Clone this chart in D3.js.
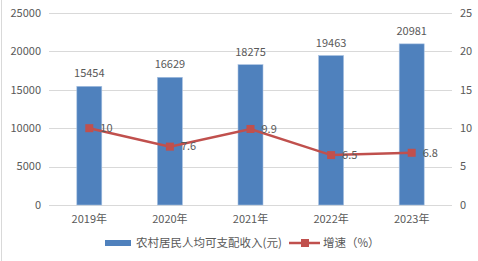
<!DOCTYPE html>
<html><head><meta charset="utf-8">
<script src="https://cdn.jsdelivr.net/npm/d3@7"></script>
<style>body{margin:0;background:#fff}svg{display:block}</style>
</head><body>
<script>
const categories = ["2019年","2020年","2021年","2022年","2023年"];
const income = [15454,16629,18275,19463,20981];
const growth = [10,7.6,9.9,6.5,6.8];
const leftTicks = [0,5000,10000,15000,20000,25000];
const rightTicks = [0,5,10,15,20,25];
const seriesNames = ["农村居民人均可支配收入(元)","增速（%）"];

const W=478,H=261;
const font='"Microsoft YaHei","Noto Sans CJK SC",sans-serif';
const svg=d3.select("body").append("svg").attr("width",W).attr("height",H).style("font-family",font);
svg.append("rect").attr("width",W).attr("height",H).attr("fill","#fff");
svg.append("line").attr("x1",1.5).attr("x2",1.5).attr("y1",0).attr("y2",H).attr("stroke","#d9d9d9");

const x=d3.scaleBand().domain(categories).range([49,452]).paddingInner(0.69).paddingOuter(0.345);
const yL=d3.scaleLinear().domain([0,25000]).range([205,13]);
const yR=d3.scaleLinear().domain([0,25]).range([205,13]);
const txt="#595959";

// grid
svg.append("g").selectAll("line").data(leftTicks).join("line")
 .attr("x1",49).attr("x2",452).attr("y1",d=>Math.round(yL(d))+0.5).attr("y2",d=>Math.round(yL(d))+0.5)
 .attr("stroke","#d9d9d9");

// left axis labels
svg.append("g").selectAll("text").data(leftTicks).join("text")
 .attr("x",41).attr("y",d=>yL(d)).attr("dy","0.35em").attr("text-anchor","end")
 .attr("font-size",11).attr("fill",txt).text(d=>d);
// right axis labels
svg.append("g").selectAll("text").data(rightTicks).join("text")
 .attr("x",460).attr("y",d=>yR(d)).attr("dy","0.35em").attr("text-anchor","start")
 .attr("font-size",11).attr("fill",txt).text(d=>d);

// bars
svg.append("g").selectAll("rect").data(income).join("rect")
 .attr("x",(d,i)=>x(categories[i])).attr("width",x.bandwidth())
 .attr("y",d=>yL(d)).attr("height",d=>yL(0)-yL(d))
 .attr("fill","#4f81bd").attr("stroke","#a9c2e2").attr("stroke-width",0.6);
svg.append("g").selectAll("text").data(income).join("text")
 .attr("x",(d,i)=>x(categories[i])+x.bandwidth()/2).attr("y",d=>yL(d)-9)
 .attr("text-anchor","middle").attr("font-size",11).attr("fill",txt).text(d=>d);

// x labels
svg.append("g").selectAll("text").data(categories).join("text")
 .attr("x",d=>x(d)+x.bandwidth()/2).attr("y",219).attr("dy","0.35em")
 .attr("text-anchor","middle").attr("font-size",11).attr("fill",txt).text(d=>d);

// line
const cx=(i)=>x(categories[i])+x.bandwidth()/2;
svg.append("path").datum(growth)
 .attr("d",d3.line().x((d,i)=>cx(i)).y(d=>yR(d)))
 .attr("fill","none").attr("stroke","#c0504d").attr("stroke-width",2.5);
svg.append("g").selectAll("rect").data(growth).join("rect")
 .attr("x",(d,i)=>cx(i)-4).attr("y",d=>yR(d)-4).attr("width",8).attr("height",8)
 .attr("fill","#c0504d");
svg.append("g").selectAll("text").data(growth).join("text")
 .attr("x",(d,i)=>cx(i)+11).attr("y",d=>yR(d)).attr("dy","0.35em")
 .attr("font-size",11).attr("fill",txt).text(d=>d);

// legend
const lg=svg.append("g");
lg.append("rect").attr("x",105).attr("y",240).attr("width",26).attr("height",6).attr("fill","#4f81bd");
lg.append("text").attr("x",136).attr("y",243).attr("dy","0.35em").attr("font-size",11.5).attr("fill",txt).text(seriesNames[0]);
lg.append("line").attr("x1",289).attr("x2",320).attr("y1",243).attr("y2",243).attr("stroke","#c0504d").attr("stroke-width",2.5);
lg.append("rect").attr("x",301).attr("y",239).attr("width",8).attr("height",8).attr("fill","#c0504d");
lg.append("text").attr("x",323).attr("y",243).attr("dy","0.35em").attr("font-size",11.5).attr("fill",txt).text(seriesNames[1]);
</script>
</body></html>
